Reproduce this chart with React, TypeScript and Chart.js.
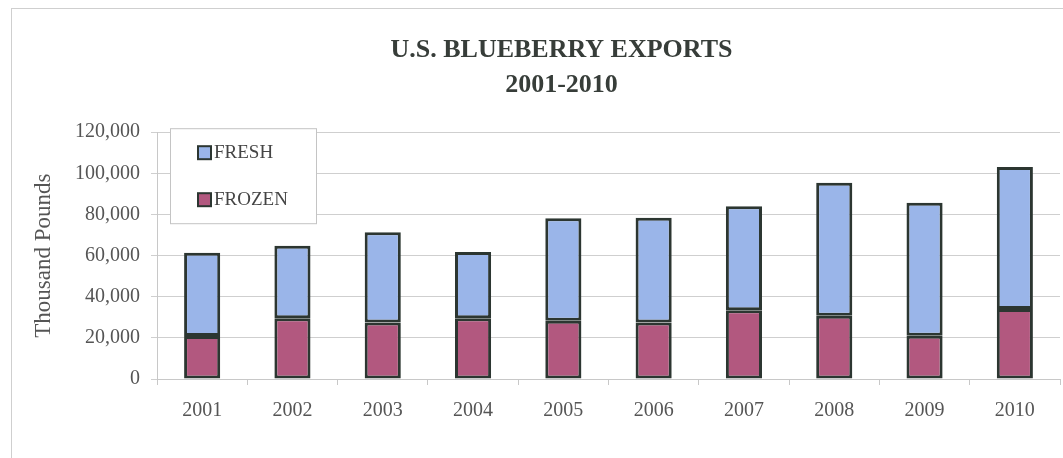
import React, { useEffect, useRef } from "react";
import { Chart, registerables } from "chart.js";

Chart.register(...registerables);

const YEARS = ["2001", "2002", "2003", "2004", "2005", "2006", "2007", "2008", "2009", "2010"];
const FROZEN = [20900, 29500, 27500, 29500, 28300, 27500, 33400, 30800, 21000, 34000];
const FRESH = [40500, 35300, 43800, 32300, 49800, 50900, 50600, 64600, 64700, 69100];
const TITLE_LINES = ["U.S. BLUEBERRY EXPORTS", "2001-2010"];
const Y_TITLE = "Thousand Pounds";

const FRESH_COLOR = "#9ab5e9";
const FROZEN_COLOR = "#b2587f";
const EDGE = "#2c3631";
const SERIF = "'Liberation Serif', 'Times New Roman', serif";

const boxedLegend = {
  id: "boxedLegend",
  afterDraw(chart: any) {
    const { ctx, chartArea } = chart;
    const x0 = chartArea.left + 13;
    const y0 = chartArea.top - 4;
    ctx.save();
    ctx.fillStyle = "#ffffff";
    ctx.fillRect(x0, y0, 146, 95);
    ctx.strokeStyle = "#c4c4c4";
    ctx.lineWidth = 1;
    ctx.strokeRect(x0 + 0.5, y0 + 0.5, 146, 95);
    const items = [...chart.data.datasets].reverse();
    ctx.font = `19px ${SERIF}`;
    ctx.textBaseline = "alphabetic";
    items.forEach((ds: any, i: number) => {
      const base = chartArea.top + 26 + i * 47;
      ctx.fillStyle = ds.backgroundColor;
      ctx.fillRect(chartArea.left + 41, base - 12, 13, 13);
      ctx.strokeStyle = EDGE;
      ctx.lineWidth = 2;
      ctx.strokeRect(chartArea.left + 41, base - 12, 13, 13);
      ctx.fillStyle = "#454545";
      ctx.fillText(ds.label, chartArea.left + 57, base);
    });
    ctx.restore();
  },
};

export default function App() {
  const ref = useRef<HTMLCanvasElement | null>(null);

  useEffect(() => {
    if (!ref.current) return;
    const chart = new Chart(ref.current, {
      type: "bar",
      data: {
        labels: YEARS,
        datasets: [
          {
            label: "FROZEN",
            data: FROZEN,
            backgroundColor: FROZEN_COLOR,
            borderColor: EDGE,
            borderWidth: 3,
            borderSkipped: false,
            barPercentage: 0.4,
            categoryPercentage: 1,
          },
          {
            label: "FRESH",
            data: FRESH,
            backgroundColor: FRESH_COLOR,
            borderColor: EDGE,
            borderWidth: 3,
            borderSkipped: false,
            barPercentage: 0.4,
            categoryPercentage: 1,
          },
        ],
      },
      options: {
        responsive: false,
        animation: false,
        devicePixelRatio: 1,
        layout: { padding: 0 },
        plugins: {
          legend: { display: false },
          tooltip: { enabled: false },
          title: {
            display: true,
            text: TITLE_LINES,
            color: "#373d39",
            font: { family: SERIF, size: 26, weight: "bold", lineHeight: 1.35 },
            padding: { top: 24, bottom: 29 },
          },
        },
        scales: {
          x: {
            stacked: true,
            grid: {
              display: true,
              drawOnChartArea: false,
              drawTicks: true,
              tickLength: 6,
              color: "#c8c8c8",
            },
            border: { display: true, color: "#c8c8c8" },
            ticks: {
              color: "#555555",
              font: { family: SERIF, size: 20 },
              padding: 14,
            },
            afterFit(s: any) {
              s.height = 90;
            },
          },
          y: {
            stacked: true,
            min: 0,
            max: 120000,
            grid: { color: "#cfcfcf", tickLength: 6 },
            border: { display: true, color: "#c8c8c8" },
            ticks: {
              stepSize: 20000,
              color: "#555555",
              font: { family: SERIF, size: 20 },
              padding: 11,
              callback: (v: any) => Number(v).toLocaleString("en-US"),
            },
            title: {
              display: true,
              text: Y_TITLE,
              color: "#555555",
              font: { family: SERIF, size: 23 },
              padding: { top: 18, bottom: 0 },
            },
            afterFit(s: any) {
              s.width = 145;
            },
          },
          pad: {
            type: "linear",
            position: "right",
            display: true,
            grid: { display: false },
            border: { display: false },
            ticks: { display: false },
            afterFit(s: any) {
              s.width = 51;
            },
          },
        },
      },
      plugins: [boxedLegend],
    } as any);
    return () => chart.destroy();
  }, []);

  return (
    <div
      style={{
        position: "fixed",
        left: 11,
        top: 8,
        width: 1099,
        height: 460,
        border: "1px solid #cfcfcf",
        background: "#ffffff",
      }}
    >
      <canvas ref={ref} width={1099} height={460} style={{ display: "block" }} />
    </div>
  );
}
